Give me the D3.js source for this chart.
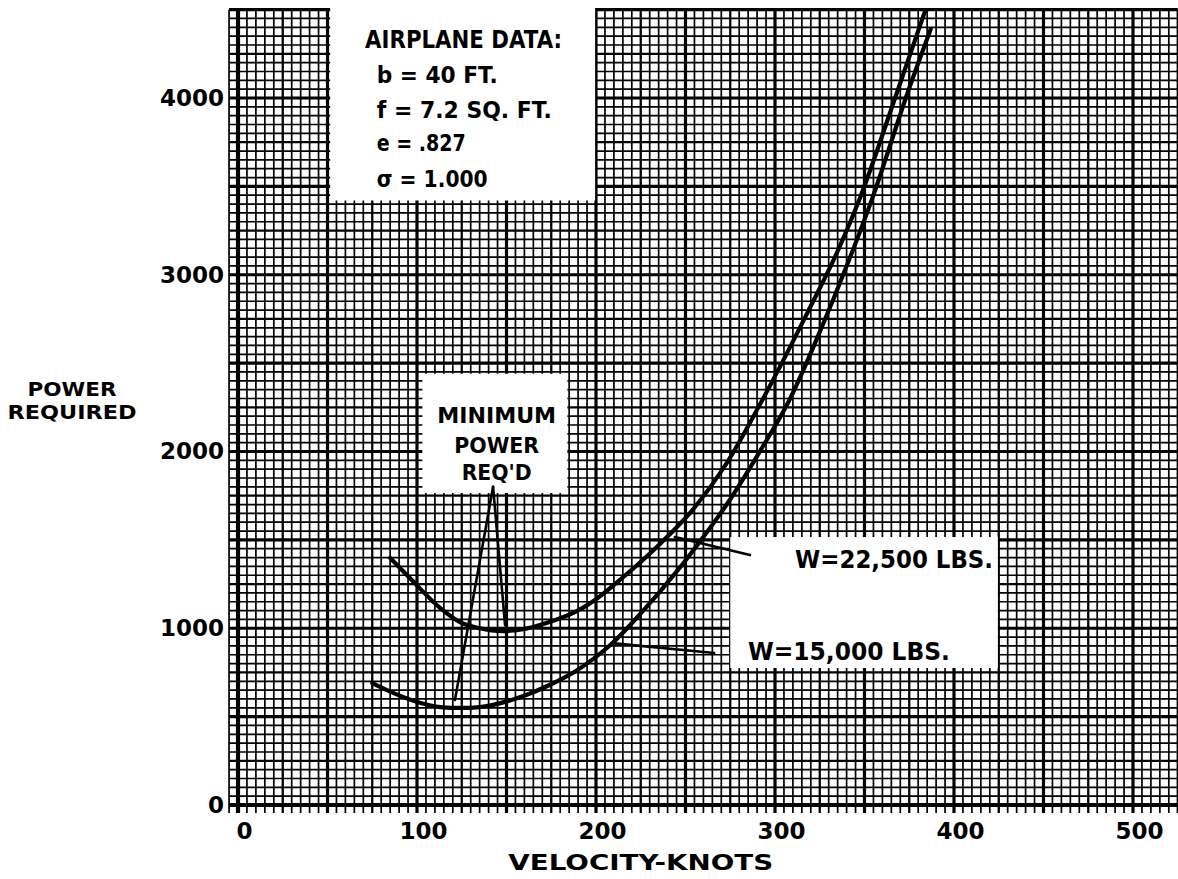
<!DOCTYPE html>
<html>
<head>
<meta charset="utf-8">
<script src="https://cdn.jsdelivr.net/npm/d3@7"></script>
<style>
  html, body { margin: 0; padding: 0; background: #fff; }
  svg { display: block; }
  text { font-family: "DejaVu Sans", "Liberation Sans", sans-serif; font-weight: bold; fill: #000; }
</style>
</head>
<body>
<svg id="chart" width="1178" height="879"></svg>
<script>
// ---------------- data ----------------
const xTicks = [0, 100, 200, 300, 400, 500];
const yTicks = [0, 1000, 2000, 3000, 4000];

// W = 22,500 lbs  (velocity knots, power required)
const heavySpeed = [85, 96, 113, 124, 135, 148, 161, 174, 189, 198, 217, 236, 254, 273, 292, 318, 336, 347, 368, 384];
const heavyPower = [1397, 1284, 1114, 1035, 1000, 984, 998, 1035, 1095, 1150, 1305, 1480, 1670, 1934, 2274, 2783, 3156, 3422, 4027, 4497];

// W = 15,000 lbs
const lightSpeed = [75, 87, 102, 113, 124, 135, 146, 161, 174, 189, 208, 226, 245, 258, 273, 292, 308, 326, 342, 354, 374, 387];
const lightPower = [690, 633, 577, 554, 549, 554, 575, 622, 679, 760, 905, 1095, 1320, 1490, 1700, 2008, 2290, 2700, 3100, 3422, 4027, 4390];

const seriesLabels = ["W=22,500 LBS.", "W=15,000 LBS."];
const dataTitle = "AIRPLANE DATA:";
const dataLines = ["b = 40 FT.", "f = 7.2 SQ. FT.", "e = .827", "σ = 1.000"];
const minLabel = ["MINIMUM", "POWER", "REQ'D"];
const xTitle = "VELOCITY-KNOTS";
const yTitle = ["POWER", "REQUIRED"];

// ---------------- layout (data units) ----------------
const svg = d3.select("#chart");
const x = d3.scaleLinear().domain([0, 500]).range([238, 1133]);
const y = d3.scaleLinear().domain([0, 4000]).range([805, 98]);

const gridX = d3.range(-5, 526, 5);
const gridY = d3.range(0, 4501, 50);

const whiteBoxes = [
  {x0: 51.5, x1: 199.5, y0: 3420, y1: 4600},
  {x0: 103, x1: 184, y0: 1765, y1: 2440},
  {x0: 275, x1: 424.5, y0: 775, y1: 1516}
];

// ---------------- grid ----------------
const g = svg.append("g");
function vw(v) { return v === 0 ? 4.2 : (v % 50 === 0 ? 3.2 : (v % 25 === 0 ? 2.3 : 1.7)); }
function hw(v) { return v === 0 ? 4.2 : (v % 500 === 0 ? 3.2 : (v % 250 === 0 ? 2.3 : 1.7)); }

g.selectAll("line.v").data(gridX).join("line")
  .attr("class", "v")
  .attr("x1", d => x(d)).attr("x2", d => x(d))
  .attr("y1", y(-45)).attr("y2", y(4500))
  .attr("stroke", "#000").attr("stroke-width", vw);

g.selectAll("line.h").data(gridY).join("line")
  .attr("class", "h")
  .attr("x1", x(-5)).attr("x2", x(525))
  .attr("y1", d => y(d)).attr("y2", d => y(d))
  .attr("stroke", "#000").attr("stroke-width", hw);

// white label areas on the graph paper
svg.selectAll("rect.box").data(whiteBoxes).join("rect")
  .attr("class", "box")
  .attr("x", d => x(d.x0)).attr("width", d => x(d.x1) - x(d.x0))
  .attr("y", d => Math.max(0, y(d.y1))).attr("height", d => y(d.y0) - Math.max(0, y(d.y1)))
  .attr("fill", "#fff");

// ---------------- axes labels ----------------
const xAxis = svg.append("g").attr("transform", `translate(0,${y(0)})`)
  .call(d3.axisBottom(x).tickValues(xTicks).tickSize(0).tickPadding(18).tickFormat(d3.format("d")));
xAxis.select(".domain").remove();
xAxis.selectAll("text").attr("font-size", 23).attr("dx", 6)
  .style("font-family", '"DejaVu Sans", sans-serif').style("font-weight", "bold");

const yAxis = svg.append("g").attr("transform", `translate(${x(0)},0)`)
  .call(d3.axisLeft(y).tickValues(yTicks).tickSize(0).tickPadding(14).tickFormat(d3.format("d")));
yAxis.select(".domain").remove();
yAxis.selectAll("text").attr("font-size", 23)
  .style("font-family", '"DejaVu Sans", sans-serif').style("font-weight", "bold");

svg.append("text").attr("x", x(225)).attr("y", 870).attr("text-anchor", "middle")
  .attr("font-size", 22).attr("textLength", 265).attr("lengthAdjust", "spacingAndGlyphs")
  .text(xTitle);

const yTitleLen = [89, 129];
svg.selectAll("text.ytitle").data(yTitle).join("text")
  .attr("class", "ytitle")
  .attr("x", 72).attr("y", (d, i) => 396 + i * 23).attr("text-anchor", "middle")
  .attr("font-size", 20).attr("textLength", (d, i) => yTitleLen[i]).attr("lengthAdjust", "spacingAndGlyphs")
  .text(d => d);

// ---------------- curves ----------------
const line = d3.line().x(d => x(d[0])).y(d => y(d[1])).curve(d3.curveMonotoneX);
const heavy = heavySpeed.map((s, i) => [s, heavyPower[i]]);
const light = lightSpeed.map((s, i) => [s, lightPower[i]]);

svg.append("path").datum(heavy).attr("d", line)
  .attr("fill", "none").attr("stroke", "#000").attr("stroke-width", 4.2).attr("stroke-linecap", "round");
svg.append("path").datum(light).attr("d", line)
  .attr("fill", "none").attr("stroke", "#000").attr("stroke-width", 4.2).attr("stroke-linecap", "round");

// ---------------- annotations ----------------
const leaders = [
  [[142.5, 1800], [149.2, 1018]],
  [[142.5, 1800], [121.2, 594]],
  [[244.1, 1516], [286, 1414]],
  [[208.9, 916], [266, 860]]
];
svg.selectAll("line.leader").data(leaders).join("line")
  .attr("class", "leader")
  .attr("x1", d => x(d[0][0])).attr("y1", d => y(d[0][1]))
  .attr("x2", d => x(d[1][0])).attr("y2", d => y(d[1][1]))
  .attr("stroke", "#000").attr("stroke-width", 2.6).attr("stroke-linecap", "round");

// airplane data block
svg.append("text").attr("x", x(71)).attr("y", y(4282))
  .attr("font-size", 24).attr("textLength", 197).attr("lengthAdjust", "spacingAndGlyphs")
  .text(dataTitle);
const dataLineY = [4084, 3886, 3699, 3495];
const dataLineLen = [121, 175, 89, 111];
svg.selectAll("text.dl").data(dataLines).join("text")
  .attr("class", "dl")
  .attr("x", x(77.5)).attr("y", (d, i) => y(dataLineY[i]))
  .attr("font-size", 23).attr("textLength", (d, i) => dataLineLen[i]).attr("lengthAdjust", "spacingAndGlyphs")
  .text(d => d);

// minimum power label
const minY = [2161, 1991, 1838];
const minLen = [119, 85, 70];
svg.selectAll("text.mn").data(minLabel).join("text")
  .attr("class", "mn")
  .attr("x", x(144.5)).attr("y", (d, i) => y(minY[i])).attr("text-anchor", "middle")
  .attr("font-size", 22).attr("textLength", (d, i) => minLen[i]).attr("lengthAdjust", "spacingAndGlyphs")
  .text(d => d);

// series labels
const labelPos = [[311.2, 1340], [284.9, 820]];
const labelLen = [198, 202];
svg.selectAll("text.sl").data(seriesLabels).join("text")
  .attr("class", "sl")
  .attr("x", (d, i) => x(labelPos[i][0])).attr("y", (d, i) => y(labelPos[i][1]))
  .attr("font-size", 24).attr("textLength", (d, i) => labelLen[i]).attr("lengthAdjust", "spacingAndGlyphs")
  .text(d => d);
</script>
</body>
</html>
